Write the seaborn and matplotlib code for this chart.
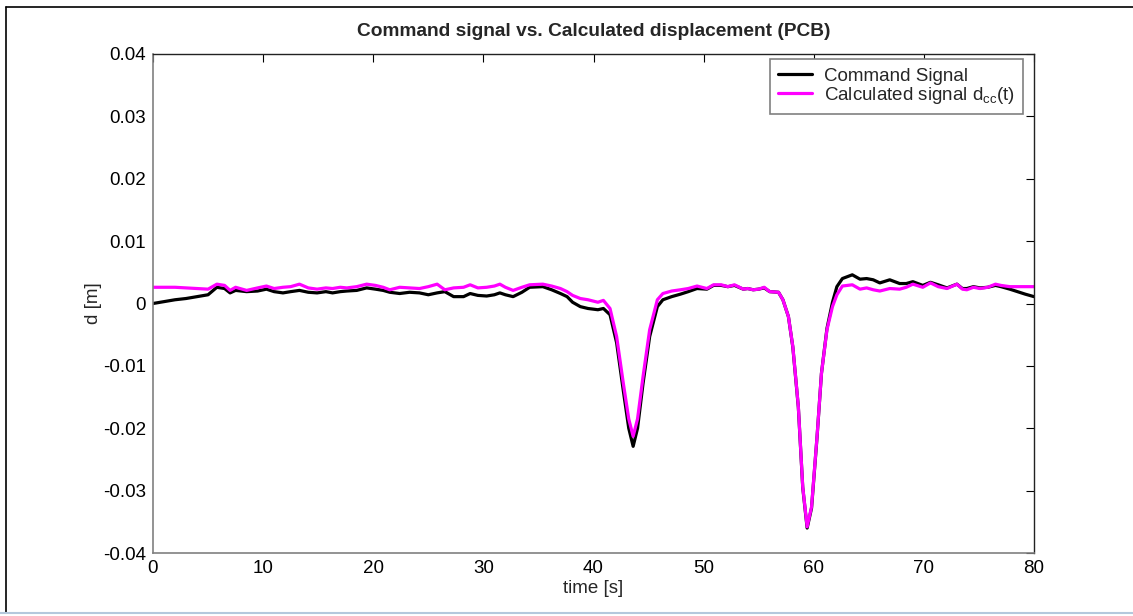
import pandas as pd
import matplotlib
matplotlib.use("Agg")
import matplotlib.pyplot as plt
import seaborn as sns
from matplotlib.lines import Line2D
import matplotlib.ticker as ticker

# time axis [s]
time_s = [
    0, 1, 2, 3, 4, 5, 5.8, 6.5, 7, 7.5,
    8.5, 9.5, 10.3, 11, 11.8, 12.5, 13.3, 14.1, 14.9, 15.7,
    16.3, 17, 17.6, 18.5, 19.4, 20.2, 20.9, 21.5, 22.4, 23.3,
    24.2, 25, 25.8, 26.5, 27.3, 28.2, 28.8, 29.5, 30.3, 31,
    31.5, 32, 32.7, 33.5, 34.2, 35.4, 36.2, 37, 37.6, 38.1,
    38.8, 39.5, 40.4, 40.9, 41.5, 42.1, 42.7, 43.2, 43.6, 44.0,
    44.5, 45.1, 45.8, 46.3, 47.1, 47.9, 48.6, 49.4, 50.3, 50.9,
    51.6, 52.2, 52.8, 53.6, 54.0, 54.5, 55.0, 55.5, 56.0, 56.8,
    57.2, 57.7, 58.1, 58.6, 59.0, 59.4, 59.8, 60.3, 60.7, 61.2,
    61.7, 62.1, 62.6, 63.5, 64.2, 64.8, 65.4, 66.0, 66.9, 67.8,
    68.4, 69.0, 69.9, 70.6, 71.3, 72.1, 73.0, 73.5, 73.9, 74.5,
    75.1, 75.8, 76.5, 77.0, 77.8, 78.5, 79.2, 80.0,
]

# command signal [m]
command = [
    0.0, .0003, .0006, .0008, .0011, .0014, .0026, .0024, .0017, .0021,
    .0019, .0020, .0023, .0019, .0017, .0019, .0021, .0018, .0017, .0019,
    .0017, .0019, .0020, .0021, .0025, .0023, .0021, .0018, .0016, .0018,
    .0017, .0014, .0017, .0019, .0011, .0011, .0016, .0013, .0012, .0014,
    .0017, .0014, .0011, .0018, .0026, .0027, .0022, .0016, .0011, .0002,
    -.0005, -.0008, -.0010, -.0008, -.0018, -.0063, -.0139, -.0200, -.0229, -.0200,
    -.0128, -.0053, -.0005, .0006, .0011, .0015, .0019, .0024, .0023, .0029,
    .0029, .0027, .0029, .0023, .0024, .0022, .0023, .0025, .0019, .0018,
    .0006, -.0021, -.0070, -.0166, -.0295, -.0360, -.0328, -.0214, -.0112, -.0040,
    .0002, .0027, .0040, .0046, .0039, .0040, .0038, .0033, .0038, .0032,
    .0032, .0035, .0029, .0034, .0030, .0025, .0031, .0024, .0024, .0027,
    .0025, .0026, .0029, .0027, .0023, .0019, .0015, .0011,
]

# calculated displacement d_cc(t) [m]
calculated = [
    .0026, .0026, .0026, .0025, .0024, .0023, .0031, .0029, .0021, .0026,
    .0021, .0025, .0028, .0024, .0026, .0027, .0031, .0025, .0023, .0025,
    .0024, .0026, .0025, .0027, .0031, .0029, .0026, .0022, .0026, .0025,
    .0024, .0027, .0031, .0022, .0025, .0026, .0030, .0025, .0026, .0028,
    .0031, .0026, .0021, .0026, .0030, .0031, .0028, .0024, .0019, .0013,
    .0008, .0006, .0002, .0005, -.0008, -.0053, -.0127, -.0185, -.0213, -.0185,
    -.0117, -.0042, .0006, .0016, .0020, .0022, .0024, .0028, .0024, .0030,
    .0030, .0027, .0030, .0023, .0024, .0022, .0023, .0026, .0019, .0018,
    .0006, -.0021, -.0069, -.0165, -.0294, -.0358, -.0326, -.0213, -.0112, -.0042,
    -.0005, .0014, .0028, .0030, .0023, .0025, .0022, .0020, .0024, .0023,
    .0026, .0031, .0026, .0033, .0027, .0024, .0031, .0023, .0022, .0026,
    .0024, .0026, .0031, .0029, .0027, .0027, .0027, .0027,
]

x_ticks = [0, 10, 20, 30, 40, 50, 60, 70, 80]
y_ticks = [-0.04, -0.03, -0.02, -0.01, 0, 0.01, 0.02, 0.03, 0.04]

sns.set_style("white")
plt.rcParams['font.family'] = ['Liberation Sans', 'DejaVu Sans']
plt.rcParams['axes.unicode_minus'] = False
plt.rcParams['mathtext.default'] = 'regular'

df = pd.DataFrame({'t': time_s, 'cmd': command, 'calc': calculated})

fig = plt.figure(figsize=(11.33, 6.16), dpi=100)
ax = fig.add_axes([153 / 1133, 1 - 553 / 616, 881 / 1133, 499 / 616])

sns.lineplot(data=df, x='t', y='cmd', color='black', linewidth=2.3,
             estimator=None, sort=False, ax=ax, label='Command Signal')
sns.lineplot(data=df, x='t', y='calc', color='#FF00FF', linewidth=2.3,
             estimator=None, sort=False, ax=ax,
             label='Calculated signal d$_{cc}$(t)')

ax.set_xlim(0, 80)
ax.set_ylim(-0.04, 0.04)
ax.set_xticks(x_ticks)
ax.set_yticks(y_ticks)
ax.yaxis.set_major_formatter(ticker.FuncFormatter(lambda v, p: '%g' % round(v, 3)))
ax.tick_params(direction='in', length=6, width=0.8, colors='black',
               top=True, right=True, labelsize=13.5, pad=5)

for side in ['left', 'bottom']:
    ax.spines[side].set_color('#808080')
    ax.spines[side].set_linewidth(1.2)
for side in ['top', 'right']:
    ax.spines[side].set_color('#222222')
    ax.spines[side].set_linewidth(1.0)

ax.set_title("Command signal vs. Calculated displacement (PCB)",
             fontsize=13.8, fontweight='bold', pad=13)
ax.set_xlabel("time [s]", fontsize=13.5, labelpad=2)
ax.set_ylabel("d [m]", fontsize=13.5, labelpad=1)

leg = ax.legend(loc='upper right', bbox_to_anchor=(0.988, 0.99), fontsize=13.5,
                frameon=True, fancybox=False, framealpha=1, borderaxespad=0,
                handlelength=1.8, handletextpad=0.65, labelspacing=0.0,
                borderpad=0.45)
leg.get_frame().set_edgecolor('#808080')
leg.get_frame().set_linewidth(1.2)

# outer figure frame
fig.add_artist(Line2D([6 / 1133, 1], [1 - 7 / 616, 1 - 7 / 616], color='black', linewidth=1.2))
fig.add_artist(Line2D([6 / 1133, 6 / 1133], [1 - 7 / 616, 1 - 613 / 616], color='black', linewidth=1.2))
fig.add_artist(Line2D([0, 1], [1 - 613 / 616, 1 - 613 / 616], color='#B4C8DC', linewidth=1.5))

plt.savefig("out.png", dpi=100)
plt.close()
